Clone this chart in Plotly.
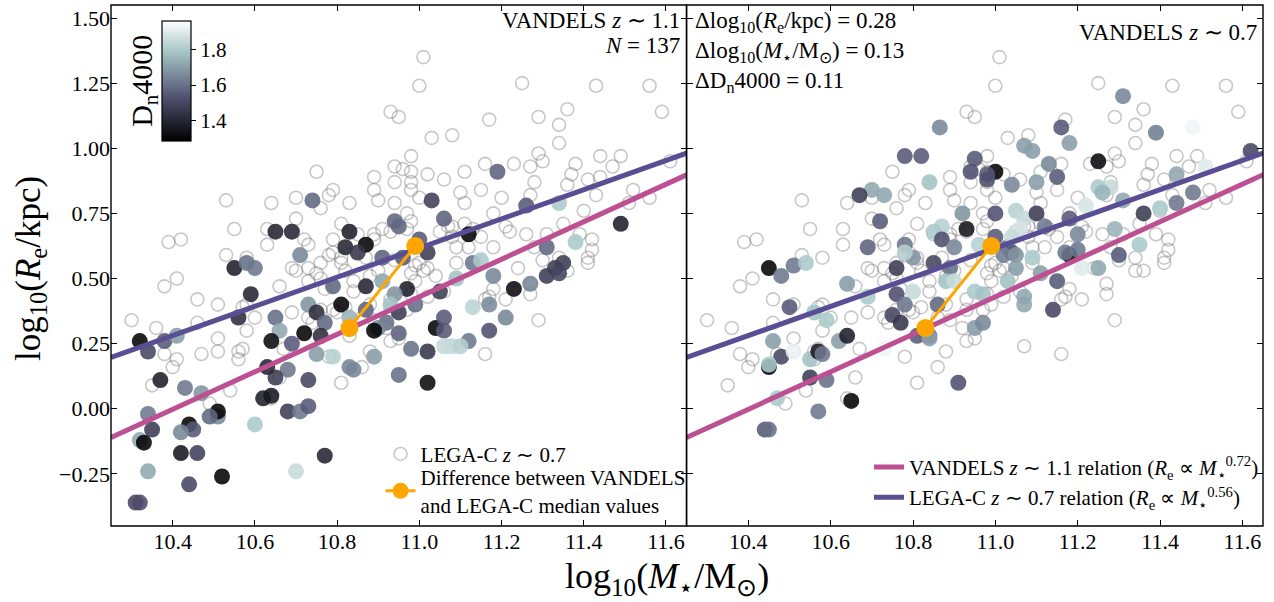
import numpy as np
import plotly.graph_objects as go

# ---------------- data ----------------
# LEGA-C z~0.7 sample (open circles, identical in both panels)
legac_logm = [
    11.01, 11.00, 11.25, 11.43, 11.56, 11.36, 11.59, 10.95, 11.17, 11.29, 11.34, 11.03, 11.08, 11.34, 11.29, 11.30,
    11.44, 11.49, 11.61, 10.98, 10.96, 11.02, 11.06, 11.11, 11.16, 11.23, 11.27, 11.38, 11.47, 11.37, 11.41, 11.44,
    11.28, 11.36, 11.10, 11.15, 11.20, 11.27, 11.43, 11.52, 11.56, 11.51, 11.40, 11.11, 11.18, 11.13, 11.08, 11.21,
    11.22, 11.26, 11.31, 11.35, 11.42, 11.41, 11.28, 10.97, 11.09, 11.30, 11.34, 11.42, 11.39,
    11.29, 11.16, 11.21, 11.17, 11.27, 11.27, 11.36, 11.41, 11.09, 11.24, 11.00, 11.01,
    10.93, 10.75, 10.94, 10.94, 10.53, 10.64, 10.70, 10.79, 10.78, 10.83, 10.89, 10.89, 10.90, 10.94, 10.76, 10.70,
    10.55, 10.39, 10.42, 10.63, 10.63, 10.73, 10.81, 10.91, 10.93, 10.89, 10.53, 10.58, 10.78, 10.81, 10.69,
    10.98, 10.98, 10.98, 11.00, 11.11, 10.85, 10.89, 10.97, 10.98, 11.05, 11.07, 11.08, 11.12, 11.15, 11.18, 10.72,
    10.79, 10.79, 10.81, 10.76, 10.73, 10.75, 10.82, 10.87, 10.94, 10.99, 11.02, 10.98, 10.99, 10.90, 11.04, 10.76,
    10.73, 10.84, 10.88, 10.77, 10.84, 10.98, 11.02, 10.99, 10.76, 10.79, 10.88, 10.86, 11.18, 11.16,
    10.30, 10.36, 10.38, 10.41, 10.46, 10.51, 10.46, 10.38, 10.41, 10.40, 10.35, 10.47, 10.51, 10.51, 10.56, 10.57,
    10.56, 10.54, 10.49, 10.58, 10.60, 10.57, 10.58, 10.66, 10.70, 10.65, 10.69, 10.67, 10.66, 10.83, 10.81, 10.88,
    10.86, 10.93,
    10.78, 10.64, 11.07, 10.95, 11.06, 10.93, 10.97, 10.93, 10.82, 10.80, 10.73, 10.74, 10.89, 10.92, 11.34,
]
legac_logre = [
    1.35, 1.24, 1.25, 1.24, 1.24, 1.15, 1.14, 1.12, 1.11, 1.12, 1.09, 1.04, 1.05, 1.02, 0.98, 0.95,
    0.97, 0.97, 0.95, 0.97, 0.92, 0.90, 0.88, 0.91, 0.94, 0.94, 0.93, 0.94, 0.93, 0.90, 0.88, 0.89,
    0.87, 0.86, 0.83, 0.84, 0.81, 0.82, 0.82, 0.84, 0.81, 0.79, 0.76, 0.79, 0.75, 0.69, 0.70, 0.70,
    0.68, 0.67, 0.67, 0.71, 0.61, 0.58, 0.62, 0.75, 0.62, 0.57, 0.58, 0.65, 0.67,
    0.34, 0.21, 0.42, 0.43, 0.44, 0.48, 0.53, 0.56, 0.56, 0.54, 0.56, 0.53,
    1.14, 0.91, 0.93, 0.87, 0.80, 0.79, 0.81, 0.84, 0.82, 0.79, 0.89, 0.84, 0.80, 0.79, 0.77, 0.73,
    0.69, 0.64, 0.65, 0.69, 0.63, 0.63, 0.71, 0.69, 0.68, 0.65, 0.59, 0.58, 0.59, 0.58, 0.54,
    0.91, 0.87, 0.84, 0.81, 0.71, 0.67, 0.67, 0.69, 0.72, 0.68, 0.70, 0.66, 0.62, 0.66, 0.62, 0.65,
    0.65, 0.60, 0.56, 0.56, 0.54, 0.52, 0.53, 0.58, 0.57, 0.55, 0.54, 0.52, 0.49, 0.53, 0.51, 0.50,
    0.49, 0.49, 0.51, 0.46, 0.45, 0.44, 0.43, 0.40, 0.38, 0.38, 0.40, 0.35, 0.46, 0.42,
    0.34, 0.31, 0.47, 0.50, 0.42, 0.40, 0.33, 0.21, 0.19, 0.16, 0.09, 0.21, 0.27, 0.22, 0.22, 0.23,
    0.19, 0.07, 0.02, 0.30, 0.35, 0.39, 0.40, 0.47, 0.53, 0.35, 0.37, 0.23, 0.12, 0.28, 0.10, 0.22,
    0.16, 0.26,
    0.20, 0.04, 0.24, 0.27, 0.45, 0.38, 0.38, 0.42, 0.39, 0.37, 0.35, 0.33, 0.34, 0.31, 0.53,
]

# VANDELS z~1.1 (left panel)
v11_logm = [
    10.74, 10.65, 10.69, 10.83, 10.82, 10.87, 10.85, 10.71, 10.94, 10.95, 10.91, 10.55, 10.58, 10.60,
    11.03, 11.06, 11.19, 11.00, 11.02, 11.12, 10.96, 11.13, 11.15, 11.18, 11.09, 11.05, 10.97, 10.87,
    10.91, 10.94, 10.79, 10.81, 10.73, 10.75, 10.77, 10.93, 10.99, 10.95, 10.87, 10.92, 10.90, 10.89,
    10.72, 10.76, 11.04, 11.06, 11.06, 11.13, 11.17, 11.17, 10.95, 10.83,
    11.26, 11.34, 11.38, 11.49, 11.31, 11.35, 11.33,
    11.31, 11.34, 11.27, 11.23, 11.21, 11.12, 11.06, 11.08, 11.10, 11.02, 10.98, 10.95, 11.02,
    10.59, 10.56, 10.65, 10.66, 10.64, 10.69, 10.75, 10.79, 10.83, 10.84, 10.89, 10.68, 10.65, 10.63,
    10.62, 10.64, 10.68, 10.73, 10.71, 10.73, 10.60, 10.51, 10.51, 10.49, 10.44, 10.45, 10.42, 10.34,
    10.35, 10.32, 10.33, 10.42, 10.46, 10.34, 10.44, 10.52, 10.70, 10.77, 10.31, 10.32, 10.37, 10.34,
    10.32, 10.38, 10.41, 10.43, 10.47,
]
v11_logre = [
    0.80, 0.68, 0.68, 0.68, 0.62, 0.63, 0.60, 0.59, 0.72, 0.70, 0.58, 0.54, 0.56, 0.54,
    0.80, 0.73, 0.91, 0.65, 0.60, 0.67, 0.58, 0.56, 0.57, 0.51, 0.50, 0.45, 0.46, 0.47,
    0.49, 0.44, 0.47, 0.40, 0.40, 0.37, 0.33, 0.40, 0.40, 0.37, 0.38, 0.33, 0.31, 0.30,
    0.29, 0.28, 0.31, 0.35, 0.30, 0.39, 0.40, 0.30, 0.29, 0.35,
    0.78, 0.79, 0.64, 0.71, 0.62, 0.56, 0.54,
    0.51, 0.52, 0.48, 0.46, 0.35, 0.26, 0.24, 0.24, 0.24, 0.22, 0.23, 0.13, 0.10,
    0.44, 0.35, 0.35, 0.30, 0.26, 0.25, 0.21, 0.20, 0.16, 0.15, 0.20, 0.15, 0.12, 0.16,
    0.04, 0.05, -0.01, 0.11, -0.01, 0.01, -0.06, -0.03, -0.01, -0.03, -0.06, -0.08, -0.09, -0.02,
    -0.08, -0.12, -0.13, -0.17, -0.17, -0.24, -0.29, -0.26, -0.24, -0.18, -0.36, -0.36, 0.11, 0.22,
    0.26, 0.26, 0.28, 0.08, 0.06,
]
v11_dn4000 = [
    1.58, 1.40, 1.40, 1.38, 1.40, 1.30, 1.45, 1.65, 1.58, 1.58, 1.57, 1.38, 1.60, 1.62,
    1.48, 1.57, 1.57, 1.55, 1.47, 1.30, 1.55, 1.62, 1.80, 1.65, 1.78, 1.47, 1.38, 1.40,
    1.72, 1.68, 1.58, 1.30, 1.68, 1.42, 1.58, 1.78, 1.60, 1.47, 1.57, 1.60, 1.65, 1.30,
    1.30, 1.42, 1.30, 1.55, 1.55, 1.83, 1.66, 1.53, 1.57, 1.75,
    1.55, 1.80, 1.80, 1.38, 1.58, 1.47, 1.47,
    1.47, 1.50, 1.65, 1.32, 1.65, 1.62, 1.85, 1.85, 1.82, 1.45, 1.60, 1.60, 1.32,
    1.40, 1.42, 1.60, 1.72, 1.32, 1.55, 1.70, 1.82, 1.65, 1.65, 1.70, 1.62, 1.47, 1.40,
    1.38, 1.36, 1.47, 1.50, 1.62, 1.55, 1.80, 1.65, 1.30, 1.58, 1.30, 1.55, 1.65, 1.62,
    1.47, 1.72, 1.30, 1.36, 1.48, 1.72, 1.50, 1.30, 1.85, 1.40, 1.50, 1.52, 1.38, 1.50,
    1.30, 1.55, 1.70, 1.62, 1.68,
]

# VANDELS z~0.7 (right panel)
v07_logm = [
    10.865, 10.78, 10.82, 10.95, 10.94, 10.84, 10.70, 10.73, 10.67, 10.72, 10.69, 10.78, 10.92, 10.87,
    10.85, 10.87, 10.90, 10.93, 10.76, 10.80, 10.45, 10.51, 10.54, 10.78,
    11.31, 11.16, 11.39, 11.48, 11.18, 11.07, 11.09, 11.25, 11.13, 11.15, 11.10, 11.04, 11.00, 10.98,
    10.98, 11.25, 11.28, 11.26, 11.31, 11.22, 11.05, 11.07, 11.00, 11.10, 11.18, 11.20, 11.36, 11.40,
    11.44, 11.44, 11.48, 11.51, 11.62, 11.29, 11.35, 11.30, 11.03, 11.18, 11.20, 11.09, 11.04,
    10.96, 11.00, 11.06, 11.04, 11.12, 10.85, 10.89, 11.02, 11.05, 11.05, 11.17, 11.11, 11.15, 10.88,
    10.90, 10.95, 10.97, 11.03, 11.07, 11.07, 11.14, 10.80, 10.76, 10.78, 10.86, 10.75, 10.77, 10.95,
    10.97, 10.81, 10.84,
    10.48, 10.64, 10.69, 10.50, 10.56, 10.59, 10.46, 10.48, 10.45, 10.45, 10.51, 10.55, 10.57, 10.58,
    10.62, 10.64, 10.55, 10.59, 10.73, 10.84, 10.47, 10.57, 10.65, 10.44, 10.45, 10.91,
    11.25, 11.21,
]
v07_logre = [
    1.08, 0.97, 0.97, 0.96, 0.91, 0.87, 0.84, 0.82, 0.82, 0.72, 0.62, 0.63, 0.75, 0.70,
    0.68, 0.65, 0.62, 0.69, 0.54, 0.58, 0.54, 0.55, 0.56, 0.60,
    1.20, 1.08, 1.06, 1.08, 1.02, 1.01, 0.99, 0.95, 0.94, 0.89, 0.87, 0.86, 0.91, 0.90,
    0.88, 0.85, 0.85, 0.83, 0.80, 0.78, 0.76, 0.73, 0.75, 0.75, 0.73, 0.67, 0.75, 0.77,
    0.79, 0.90, 0.83, 0.93, 0.99, 0.69, 0.63, 0.59, 0.62, 0.59, 0.61, 0.58, 0.60,
    0.63, 0.66, 0.69, 0.66, 0.70, 0.56, 0.54, 0.59, 0.59, 0.54, 0.60, 0.52, 0.49, 0.49,
    0.49, 0.45, 0.44, 0.49, 0.43, 0.40, 0.38, 0.45, 0.44, 0.40, 0.40, 0.36, 0.33, 0.31,
    0.33, 0.28, 0.28,
    0.51, 0.48, 0.43, 0.39, 0.37, 0.34, 0.26, 0.20, 0.16, 0.17, 0.22, 0.19, 0.22, 0.21,
    0.26, 0.28, 0.12, 0.11, 0.23, 0.27, 0.04, -0.01, 0.03, -0.08, -0.08, 0.10,
    0.54, 0.54,
]
v07_dn4000 = [
    1.65, 1.55, 1.55, 1.55, 1.53, 1.78, 1.72, 1.72, 1.47, 1.55, 1.57, 1.62, 1.68, 1.82,
    1.80, 1.53, 1.65, 1.35, 1.47, 1.68, 1.30, 1.62, 1.80, 1.82,
    1.65, 1.55, 1.63, 1.93, 1.70, 1.70, 1.70, 1.32, 1.65, 1.55, 1.70, 1.65, 1.30, 1.55,
    1.53, 1.80, 1.85, 1.75, 1.72, 1.88, 1.82, 1.85, 1.53, 1.47, 1.55, 1.65, 1.47, 1.80,
    1.62, 1.72, 1.62, 1.90, 1.50, 1.75, 1.80, 1.55, 1.62, 1.30, 1.62, 1.80, 1.55,
    1.82, 1.55, 1.88, 1.85, 1.62, 1.50, 1.60, 1.63, 1.68, 1.70, 1.62, 1.70, 1.55, 1.78,
    1.85, 1.80, 1.78, 1.78, 1.72, 1.72, 1.50, 1.85, 1.53, 1.62, 1.58, 1.50, 1.45, 1.70,
    1.65, 1.55, 1.62,
    1.62, 1.70, 1.80, 1.55, 1.78, 1.80, 1.70, 1.50, 1.30, 1.80, 1.92, 1.78, 1.35, 1.62,
    1.70, 1.38, 1.47, 1.60, 1.93, 1.70, 1.80, 1.62, 1.30, 1.55, 1.60, 1.53,
    1.72, 1.90,
]

# median values (VANDELS z~1.1 -> LEGA-C z~0.7)
median_logm = [10.83, 10.99]
median_logre = [0.31, 0.625]

# size-mass relations: log Re = slope * log M + intercept
vandels_slope, vandels_intercept = 0.72, -7.49
legac_slope, legac_intercept = 0.56, -5.543

x_range = [10.25, 11.65]
y_range = [-0.45, 1.55]
x_ticks = [10.4, 10.6, 10.8, 11.0, 11.2, 11.4, 11.6]
y_ticks = [-0.25, 0.0, 0.25, 0.5, 0.75, 1.0, 1.25, 1.5]
dn_range = [1.29, 1.96]
dn_ticks = [1.4, 1.6, 1.8]

# ---------------- figure ----------------
FONT = "Liberation Serif"
PINK = "#bd4f93"
PURPLE = "#594e94"
ORANGE = "#ffa500"
bone = [[0.0, "rgb(0,0,0)"], [0.365, "rgb(81,81,113)"],
        [0.746, "rgb(166,198,198)"], [1.0, "rgb(255,255,255)"]]

fig = go.Figure()

line_x = np.linspace(x_range[0], x_range[1], 50)
vandels_line = vandels_slope * line_x + vandels_intercept
legac_line = legac_slope * line_x + legac_intercept

for xa, ya, show in [("x", "y", True), ("x2", "y2", False)]:
    fig.add_trace(go.Scatter(
        x=legac_logm, y=legac_logre, mode="markers", xaxis=xa, yaxis=ya,
        marker=dict(symbol="circle-open", size=13, color="rgba(110,110,110,0.38)",
                    line=dict(width=1.6)),
        name="LEGA-C <i>z</i> ∼ 0.7", showlegend=show, legend="legend"))

fig.add_trace(go.Scatter(
    x=v11_logm, y=v11_logre, mode="markers", xaxis="x", yaxis="y", showlegend=False,
    marker=dict(size=16, color=v11_dn4000, coloraxis="coloraxis", opacity=0.88,
                line=dict(width=0))))
fig.add_trace(go.Scatter(
    x=v07_logm, y=v07_logre, mode="markers", xaxis="x2", yaxis="y2", showlegend=False,
    marker=dict(size=16, color=v07_dn4000, coloraxis="coloraxis", opacity=0.88,
                line=dict(width=0))))

for xa, ya, show in [("x", "y", False), ("x2", "y2", True)]:
    fig.add_trace(go.Scatter(
        x=line_x, y=vandels_line, mode="lines", xaxis=xa, yaxis=ya,
        line=dict(color=PINK, width=5), showlegend=show, legend="legend2",
        name="VANDELS <i>z</i> ∼ 1.1 relation (<i>R</i><sub>e</sub> ∝ <i>M</i><sub>⋆</sub><sup>0.72</sup>)"))
    fig.add_trace(go.Scatter(
        x=line_x, y=legac_line, mode="lines", xaxis=xa, yaxis=ya,
        line=dict(color=PURPLE, width=5), showlegend=show, legend="legend2",
        name="LEGA-C <i>z</i> ∼ 0.7 relation (<i>R</i><sub>e</sub> ∝ <i>M</i><sub>⋆</sub><sup>0.56</sup>)"))

for xa, ya, show in [("x", "y", True), ("x2", "y2", False)]:
    fig.add_trace(go.Scatter(
        x=median_logm, y=median_logre, mode="lines+markers", xaxis=xa, yaxis=ya,
        line=dict(color=ORANGE, width=3), marker=dict(color=ORANGE, size=18),
        name="Difference between VANDELS<br>and LEGA-C median values",
        showlegend=show, legend="legend3"))

axis_common = dict(
    range=x_range, tickvals=x_ticks, ticktext=[f"{v:.1f}" for v in x_ticks],
    ticks="inside", ticklen=6, tickwidth=1.2, tickcolor="black",
    showline=False, mirror="allticks", automargin=False,
    showgrid=False, zeroline=False,
    tickfont=dict(family=FONT, size=22, color="black"),
)
yaxis_common = dict(axis_common)
yaxis_common.update(range=y_range, tickvals=y_ticks,
                    ticktext=[f"{v:.2f}".replace("-", "−") for v in y_ticks])

legend_common = dict(xanchor="left", yanchor="top", bgcolor="rgba(0,0,0,0)",
                     font=dict(family=FONT, size=21, color="black"), itemwidth=30)

fig.update_layout(
    width=1274, height=602,
    margin=dict(l=111, r=11, t=5, b=76),
    paper_bgcolor="white", plot_bgcolor="white",
    font=dict(family=FONT, color="black"),
    xaxis=dict(axis_common, domain=[0, 0.4996]),
    xaxis2=dict(axis_common, domain=[0.4996, 1], anchor="y2"),
    yaxis=dict(yaxis_common, domain=[0, 1]),
    yaxis2=dict(yaxis_common, domain=[0, 1], anchor="x2", showticklabels=False),
    coloraxis=dict(
        colorscale=bone, cmin=dn_range[0], cmax=dn_range[1],
        colorbar=dict(
            x=0.0443, xanchor="left", y=0.855, yanchor="middle",
            thickness=29, thicknessmode="pixels", len=120, lenmode="pixels",
            xpad=0, ypad=0, outlinewidth=1.2, outlinecolor="black",
            tickvals=dn_ticks, ticktext=[f"{v:.1f}" for v in dn_ticks],
            ticks="outside", ticklen=5, tickcolor="black",
            tickfont=dict(family=FONT, size=21, color="black"),
        ),
    ),
    legend=dict(legend_common, x=0.234, y=0.177),
    legend3=dict(legend_common, x=0.234, y=0.1324),
    legend2=dict(legend_common, x=0.658, y=0.152),
    shapes=[
        dict(type="rect", xref="x domain", yref="y domain", x0=0, x1=1, y0=0, y1=1,
             line=dict(color="black", width=1.4), layer="above"),
        dict(type="rect", xref="x2 domain", yref="y2 domain", x0=0, x1=1, y0=0, y1=1,
             line=dict(color="black", width=1.4), layer="above"),
    ],
)

FS = 23
annots = [
    dict(text="log<sub>10</sub>(<i>M</i><sub>⋆</sub>/M<sub>⊙</sub>)", xref="paper", yref="paper",
         x=0.483, y=-0.1, xanchor="center", yanchor="middle", showarrow=False,
         font=dict(family=FONT, size=36)),
    dict(text="log<sub>10</sub>(<i>R</i><sub>e</sub>/kpc)", xref="paper", yref="paper",
         x=-0.0704, y=0.495, xanchor="center", yanchor="middle", showarrow=False, textangle=-90,
         font=dict(family=FONT, size=35)),
    dict(text="D<sub>n</sub>4000", xref="paper", yref="paper",
         x=0.028, y=0.855, xanchor="center", yanchor="middle", showarrow=False, textangle=-90,
         font=dict(family=FONT, size=30)),
    dict(text="VANDELS <i>z</i> ∼ 1.1", xref="x domain", yref="y domain",
         x=0.992, y=0.971, xanchor="right", yanchor="middle", showarrow=False,
         font=dict(family=FONT, size=FS)),
    dict(text="<i>N</i> = 137", xref="x domain", yref="y domain",
         x=0.992, y=0.923, xanchor="right", yanchor="middle", showarrow=False,
         font=dict(family=FONT, size=FS)),
    dict(text="VANDELS <i>z</i> ∼ 0.7", xref="x2 domain", yref="y2 domain",
         x=0.993, y=0.948, xanchor="right", yanchor="middle", showarrow=False,
         font=dict(family=FONT, size=FS)),
    dict(text="Δlog<sub>10</sub>(<i>R</i><sub>e</sub>/kpc) = 0.28<br>"
              "Δlog<sub>10</sub>(<i>M</i><sub>⋆</sub>/M<sub>⊙</sub>) = 0.13<br>"
              "ΔD<sub>n</sub>4000 = 0.11",
         xref="x2 domain", yref="y2 domain", x=0.012, y=0.998,
         xanchor="left", yanchor="top", align="left", showarrow=False,
         font=dict(family=FONT, size=FS)),
]
fig.update_layout(annotations=annots)

fig.write_html("out.html", config={"displayModeBar": False},
               post_script="document.body.style.margin='0px';")
